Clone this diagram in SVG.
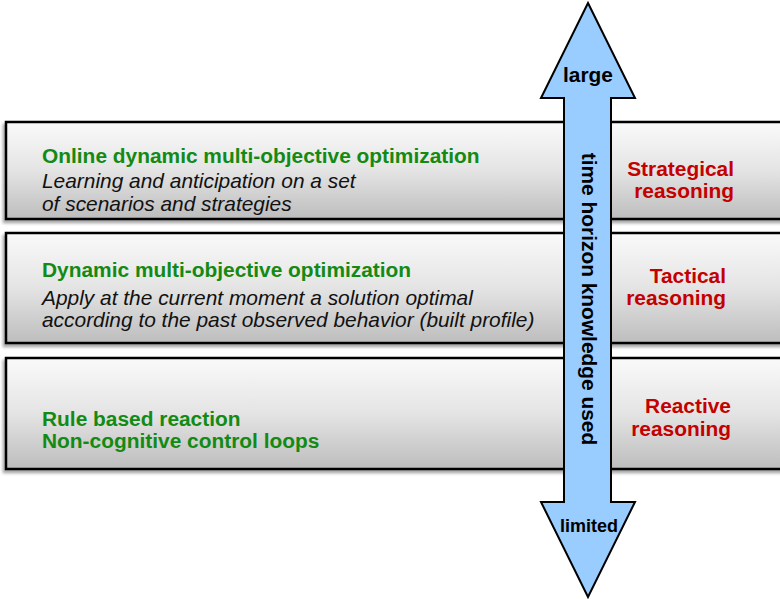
<svg xmlns="http://www.w3.org/2000/svg" width="780" height="599" viewBox="0 0 780 599">
<defs>
<linearGradient id="bandGrad" x1="0" y1="0" x2="0" y2="1">
<stop offset="0" stop-color="#fafafa"/>
<stop offset="0.5" stop-color="#e4e4e4"/>
<stop offset="1" stop-color="#bdbdbd"/>
</linearGradient>
<filter id="shadow" x="-5%" y="-10%" width="110%" height="130%">
<feDropShadow dx="-2" dy="3" stdDeviation="1.5" flood-color="#000" flood-opacity="0.35"/>
</filter>
</defs>
<style>
.band{fill:url(#bandGrad);stroke:#000;stroke-width:2.5;filter:url(#shadow)}
.title{font-family:"Liberation Sans",Arial,sans-serif;font-weight:bold;font-size:20.9px;fill:#138a13}
.desc{font-family:"Liberation Sans",Arial,sans-serif;font-style:italic;font-size:20.9px;fill:#111}
.lbl{font-family:"Liberation Sans",Arial,sans-serif;font-weight:bold;font-size:20.9px;fill:#c40000;text-anchor:end}
.arrowtxt{font-family:"Liberation Sans",Arial,sans-serif;font-weight:bold;fill:#000;text-anchor:middle}
.arrow{fill:#99ccff;stroke:#000;stroke-width:2;stroke-linejoin:miter}
</style>
<g id="band-strategical">
<rect class="band" x="6" y="122" width="790" height="97"/>
<text class="title" x="42" y="163">Online dynamic multi-objective optimization</text>
<text class="desc" x="42" y="188">Learning and anticipation on a set</text>
<text class="desc" x="42" y="211">of scenarios and strategies</text>
<text class="lbl" x="734" y="176">Strategical</text>
<text class="lbl" x="734" y="198">reasoning</text>
</g>
<g id="band-tactical">
<rect class="band" x="6" y="233" width="790" height="110"/>
<text class="title" x="42" y="277">Dynamic multi-objective optimization</text>
<text class="desc" x="42" y="305">Apply at the current moment a solution optimal</text>
<text class="desc" x="42" y="327">according to the past observed behavior (built profile)</text>
<text class="lbl" x="726" y="283">Tactical</text>
<text class="lbl" x="726" y="305">reasoning</text>
</g>
<g id="band-reactive">
<rect class="band" x="6" y="358" width="790" height="111"/>
<text class="title" x="42" y="426">Rule based reaction</text>
<text class="title" x="42" y="448">Non-cognitive control loops</text>
<text class="lbl" x="731" y="413">Reactive</text>
<text class="lbl" x="731" y="436">reasoning</text>
</g>
<g id="connectors">
<g id="time-arrow">
<polygon class="arrow" points="588,3 635,98 611,98 611,502 635,502 588,597 541,502 564,502 564,98 541,98"/>
<text class="arrowtxt" x="588" y="82" font-size="20.9">large</text>
<text class="arrowtxt" x="589" y="532" font-size="18">limited</text>
<text class="arrowtxt" font-size="20.9" transform="translate(582,299) rotate(90)">time horizon knowledge used</text>
</g>
</g>
</svg>
